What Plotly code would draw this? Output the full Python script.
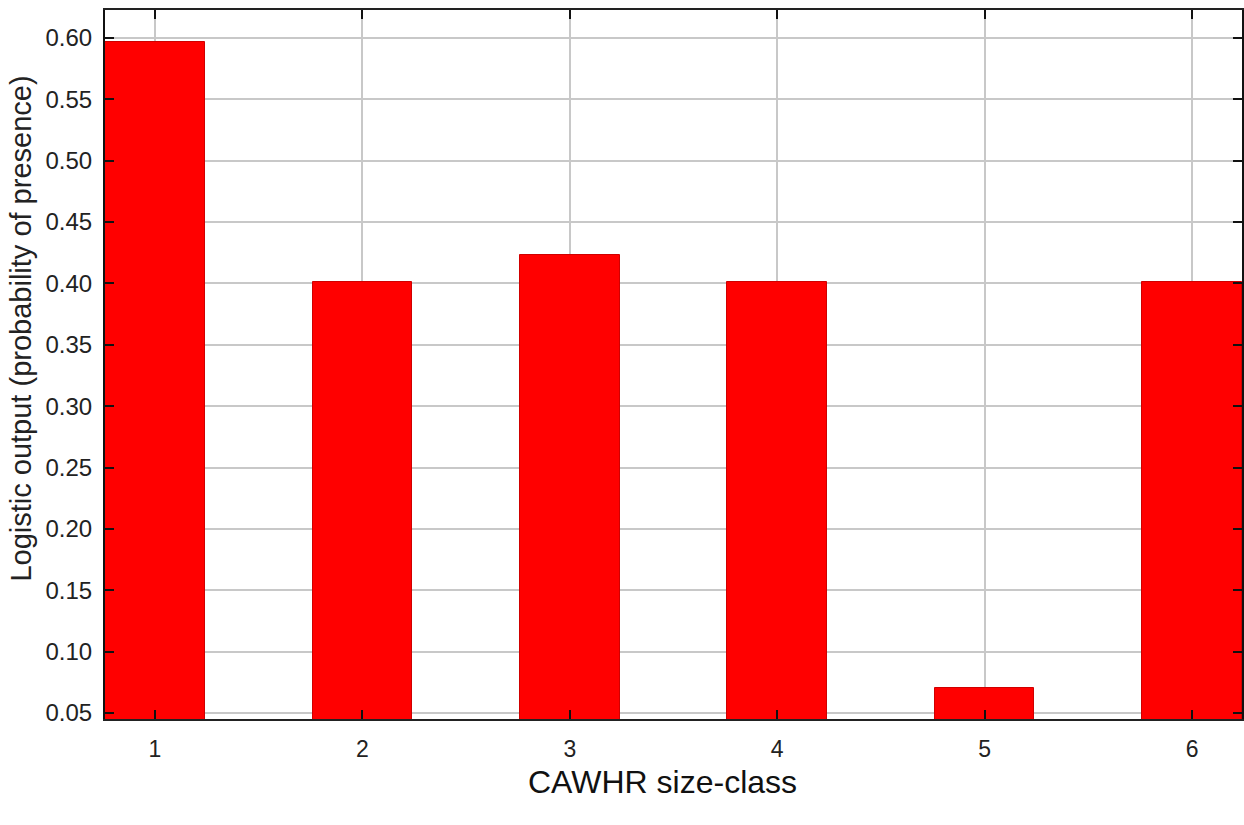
import plotly.graph_objects as go

# Response of the model to the CAWHR size-class variable
size_classes = [1, 2, 3, 4, 5, 6]
logistic_output = [0.597, 0.401, 0.423, 0.401, 0.070, 0.401]
y_tick_values = [0.05, 0.10, 0.15, 0.20, 0.25, 0.30, 0.35, 0.40, 0.45, 0.50, 0.55, 0.60]
y_tick_labels = ["0.05", "0.10", "0.15", "0.20", "0.25", "0.30", "0.35", "0.40",
                 "0.45", "0.50", "0.55", "0.60"]

W, H = 1244, 825
FONT = "Liberation Sans, Arial, sans-serif"

fig = go.Figure(
    go.Bar(
        x=size_classes,
        y=logistic_output,
        width=0.48,
        base=0,
        marker=dict(color="#ff0000", line=dict(color="#d00000", width=1)),
    )
)

fig.update_layout(
    width=W,
    height=H,
    margin=dict(l=105, r=0, t=10, b=106),
    paper_bgcolor="white",
    plot_bgcolor="white",
    showlegend=False,
    bargap=0,
    font=dict(family=FONT, color="#222222", size=24),
)

fig.update_xaxes(
    range=[0.759, 6.241],
    tickmode="array",
    tickvals=size_classes,
    ticktext=[str(v) for v in size_classes],
    tickfont=dict(size=23, color="#222222"),
    ticks="inside",
    ticklen=9,
    tickwidth=2,
    tickcolor="#111111",
    ticklabelstandoff=8,
    showgrid=True,
    gridcolor="#c8c8c8",
    gridwidth=2,
    showline=True,
    linecolor="#222222",
    linewidth=2,
    mirror="ticks",
    zeroline=False,
)

fig.update_yaxes(
    range=[0.0451, 0.6228],
    tickmode="array",
    tickvals=y_tick_values,
    ticktext=y_tick_labels,
    tickfont=dict(size=24, color="#222222"),
    ticks="inside",
    ticklen=9,
    tickwidth=2,
    tickcolor="#111111",
    ticklabelstandoff=6,
    showgrid=True,
    gridcolor="#c8c8c8",
    gridwidth=2,
    showline=True,
    linecolor="#111111",
    linewidth=2,
    mirror="ticks",
    zeroline=False,
)

# Axis titles
fig.add_annotation(
    text="CAWHR size-class",
    xref="paper", yref="paper",
    x=0.490, y=-0.0895,
    xanchor="center", yanchor="middle",
    showarrow=False,
    font=dict(size=32, color="#111111", family=FONT),
)
fig.add_annotation(
    text="Logistic output (probability of presence)",
    xref="paper", yref="paper",
    x=-0.0734, y=0.550,
    xanchor="center", yanchor="middle",
    textangle=-90,
    showarrow=False,
    font=dict(size=29, color="#222222", family=FONT),
)

fig.write_html("out.html")
